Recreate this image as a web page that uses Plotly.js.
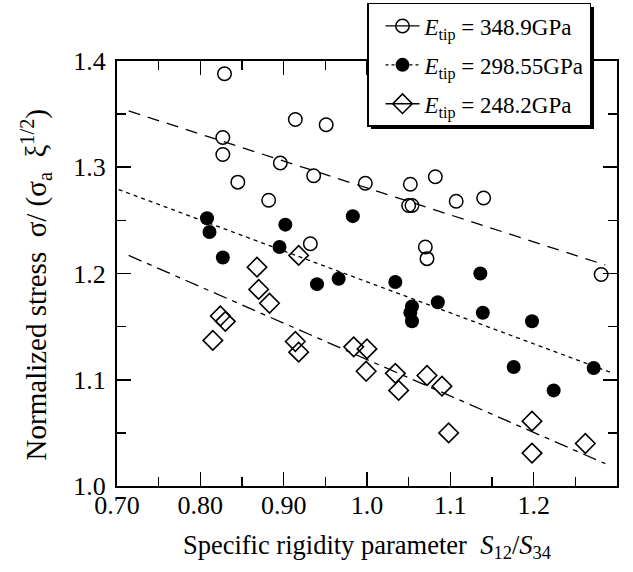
<!DOCTYPE html>
<html>
<head>
<meta charset="utf-8">
<script src="https://cdn.plot.ly/plotly-3.0.1.min.js"></script>
<style>html,body{margin:0;padding:0;background:#fff;}#chart{width:633px;height:572px;}</style>
</head>
<body>
<div id="chart"></div>
<script>
// Series: E_tip = 348.9 GPa (open circles)
const xOpen = [0.829,0.914,0.951,0.827,0.827,0.896,0.936,0.998,0.845,0.882,0.932,1.052,1.082,1.050,1.054,1.107,1.140,1.070,1.072,1.281];
const yOpen = [1.388,1.345,1.340,1.328,1.312,1.304,1.292,1.285,1.286,1.269,1.228,1.284,1.291,1.264,1.264,1.268,1.271,1.225,1.214,1.199];
// Series: E_tip = 298.55 GPa (filled circles)
const xFilled = [0.808,0.811,0.902,0.983,0.895,0.827,0.940,0.966,1.034,1.136,1.054,1.052,1.054,1.085,1.139,1.198,1.176,1.224,1.272];
const yFilled = [1.252,1.239,1.246,1.254,1.225,1.215,1.190,1.195,1.192,1.200,1.169,1.163,1.155,1.173,1.163,1.155,1.112,1.090,1.111];
// Series: E_tip = 248.2 GPa (open diamonds)
const xDiamond = [0.918,0.868,0.870,0.883,0.824,0.830,0.815,0.914,0.918,0.984,1.000,0.999,1.034,1.038,1.072,1.090,1.098,1.198,1.198,1.262];
const yDiamond = [1.217,1.206,1.185,1.172,1.160,1.155,1.137,1.136,1.126,1.131,1.129,1.108,1.106,1.090,1.104,1.094,1.050,1.061,1.031,1.040];
// Fitted trend lines (end points)
const fitOpenX = [0.714, 1.286], fitOpenY = [1.353, 1.208];
const fitFilledX = [0.702, 1.292], fitFilledY = [1.279, 1.107];
const fitDiamondX = [0.714, 1.286], fitDiamondY = [1.217, 1.021];
// Labels
const legendNames = ['<i>E</i><sub>tip</sub> = 348.9GPa', '<i>E</i><sub>tip</sub> = 298.55GPa', '<i>E</i><sub>tip</sub> = 248.2GPa'];
const xTickVals = [0.7,0.8,0.9,1.0,1.1,1.2,1.3];
const xTickText = ['0.70','0.80','0.90','1.0','1.1','1.2','1.3'];
const yTickVals = [1.0,1.1,1.2,1.3,1.4];
const yTickText = ['1.0','1.1','1.2','1.3','1.4'];
const xTitle = 'Specific rigidity parameter\u00a0\u00a0<i>S</i><sub>12</sub>/<i>S</i><sub>34</sub>';
const yTitle = 'Normalized stress\u00a0\u00a0\u03c3/ (\u03c3<sub>a</sub>\u00a0\u00a0\u03be<sup>1/2</sup>)';

const FONT = '"Liberation Serif", "Times New Roman", serif';
const mkOpen = {symbol:'circle-open', size:13.5, color:'#000', line:{width:1.5, color:'#000'}};
const mkFilled = {symbol:'circle', size:14, color:'#000'};
const mkDiamond = {symbol:'diamond-open', size:15, color:'#000', line:{width:1.6, color:'#000'}};
const dashOpen = '12px,8px';
const dashFilled = '4px,4px';
const dashDiamond = '14px,6px,5px,6px';

const traces = [
  {x: fitOpenX, y: fitOpenY, mode:'lines', line:{color:'#000', width:1.3, dash:dashOpen}, showlegend:false, hoverinfo:'skip'},
  {x: fitFilledX, y: fitFilledY, mode:'lines', line:{color:'#000', width:1.3, dash:dashFilled}, showlegend:false, hoverinfo:'skip'},
  {x: fitDiamondX, y: fitDiamondY, mode:'lines', line:{color:'#000', width:1.3, dash:dashDiamond}, showlegend:false, hoverinfo:'skip'},
  {x: xOpen, y: yOpen, mode:'markers', marker: mkOpen, showlegend:false},
  {x: xFilled, y: yFilled, mode:'markers', marker: mkFilled, showlegend:false},
  {x: xDiamond, y: yDiamond, mode:'markers', marker: mkDiamond, showlegend:false},
  // legend entries
  {x:[null], y:[null], mode:'lines+markers', name: legendNames[0], legendgroup:'g1', marker: mkOpen, line:{color:'#000', width:1.3, dash:'solid'}},
  {x:[null], y:[null], mode:'lines+markers', name: legendNames[1], legendgroup:'g2', marker: mkFilled, line:{color:'#000', width:1.3, dash:'3px,3px'}},
  {x:[null], y:[null], mode:'lines+markers', name: legendNames[2], legendgroup:'g3', marker: mkDiamond, line:{color:'#000', width:1.3, dash:'solid'}}
];

const axisCommon = {
  showgrid:false, zeroline:false, showline:true, linecolor:'#000', linewidth:2,
  mirror:'ticks', ticks:'inside', ticklen:14, tickwidth:1.6, tickcolor:'#000',
  tickfont:{family:FONT, size:26, color:'#000'}
};

const layout = {
  width:633, height:572,
  margin:{l:117, r:16, t:61, b:86, pad:0, autoexpand:false},
  paper_bgcolor:'#fff', plot_bgcolor:'#fff',
  font:{family:FONT, color:'#000'},
  xaxis: Object.assign({}, axisCommon, {
    range:[0.7,1.3], tickmode:'array', tickvals:xTickVals, ticktext:xTickText,
    ticklabelstandoff:-5,
    minor:{tickmode:'linear', tick0:0.7, dtick:0.05, ticks:'inside', ticklen:9, tickwidth:1.6, tickcolor:'#000'},
    title:{text:xTitle, font:{family:FONT, size:26.5, color:'#000'}, standoff:16}
  }),
  yaxis: Object.assign({}, axisCommon, {
    range:[1.0,1.4], tickmode:'array', tickvals:yTickVals, ticktext:yTickText,
    ticklabelstandoff:4,
    minor:{tickmode:'linear', tick0:1.0, dtick:0.05, ticks:'inside', ticklen:9, tickwidth:1.6, tickcolor:'#000'},
    title:{text:''}
  }),
  annotations:[
    {text:yTitle, textangle:-90, xref:'paper', yref:'paper', x:-0.162, y:0.472, xanchor:'center', yanchor:'middle',
     showarrow:false, font:{family:FONT, size:29, color:'#000'}}
  ],
  legend:{x:0.5, xanchor:'left', y:1.1365, yanchor:'top', bgcolor:'#fff', bordercolor:'#000', borderwidth:1.5,
    font:{family:FONT, size:23, color:'#000'}, indentation:12, itemwidth:34, tracegroupgap:6, traceorder:'grouped'},
  shapes:[
    {type:'rect', xref:'paper', yref:'paper', x0:0.508, x1:0.954, y0:0.840, y1:1.127, fillcolor:'#000', line:{width:0}, layer:'above'}
  ],
  showlegend:true
};

Plotly.newPlot('chart', traces, layout, {displayModeBar:false, staticPlot:true});
</script>
</body>
</html>
